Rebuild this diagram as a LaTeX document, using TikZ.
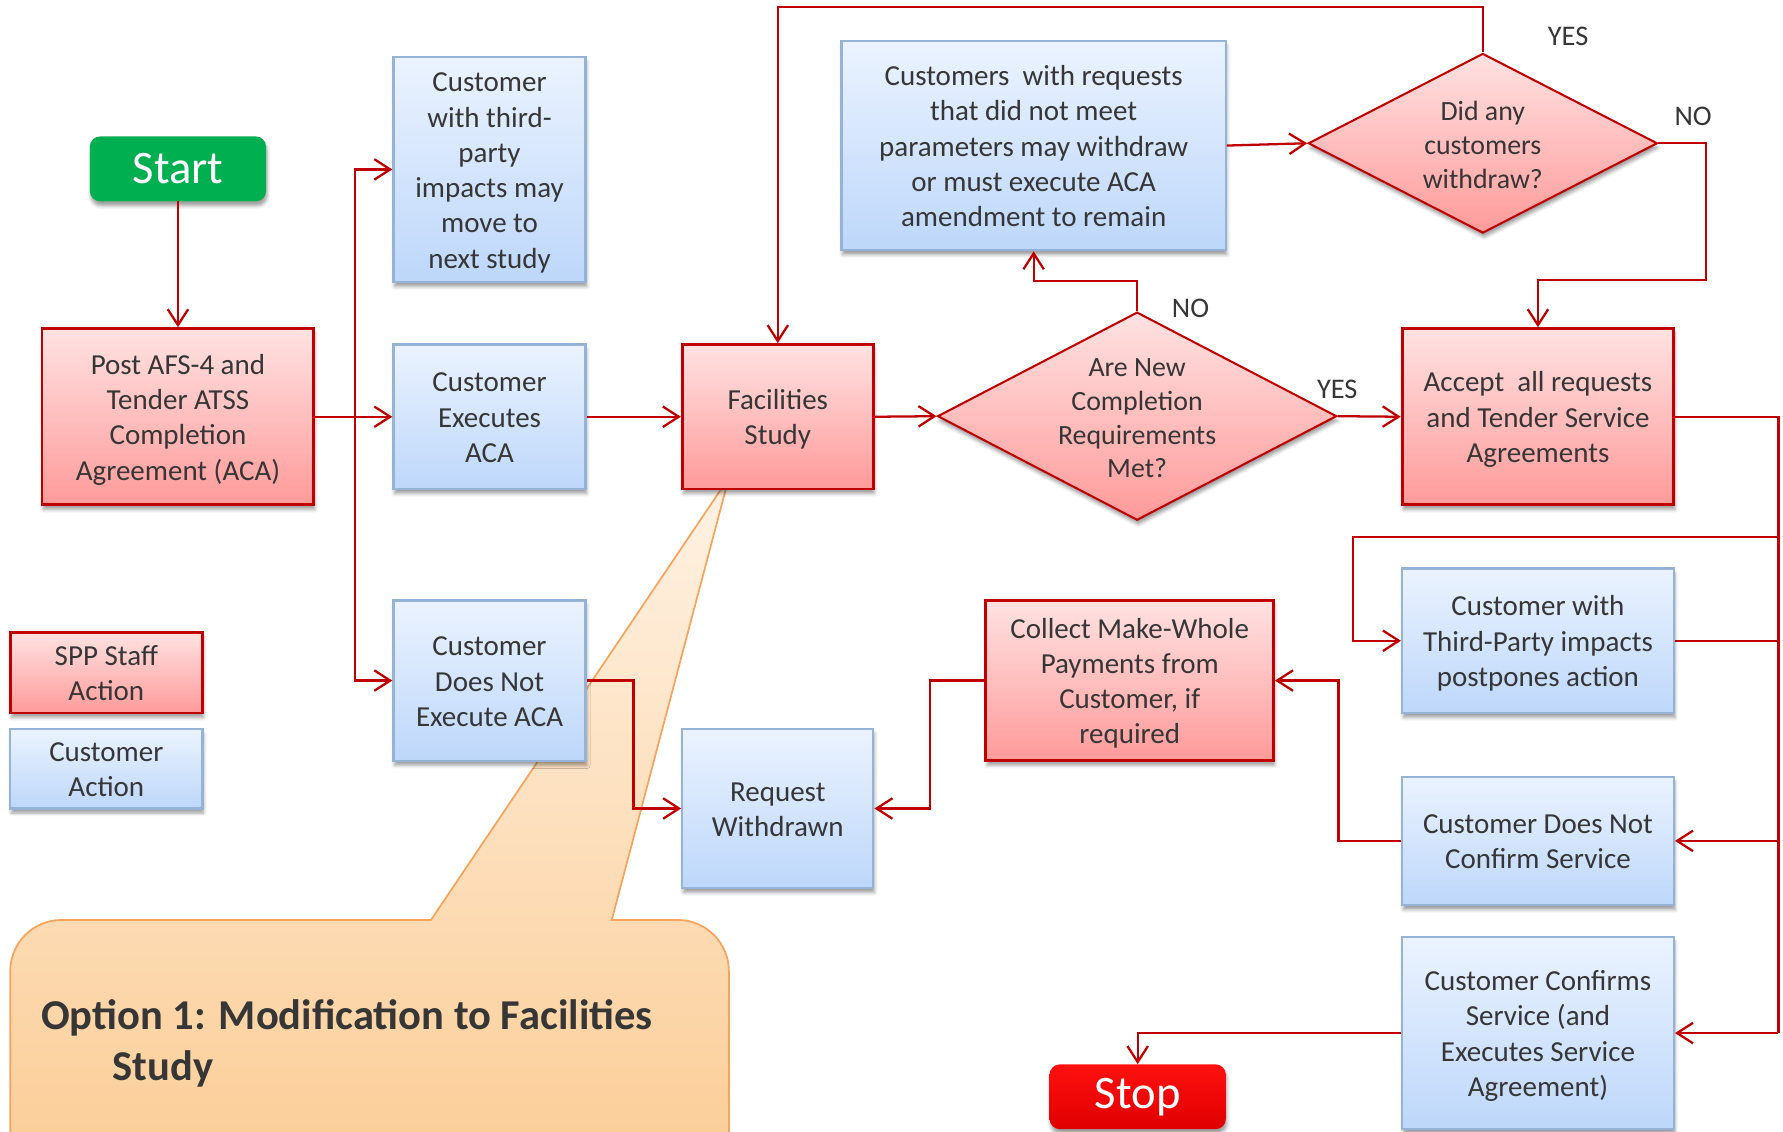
\documentclass[tikz,border=0pt]{standalone}
\usepackage{fontspec}
\setmainfont{Carlito}
\usetikzlibrary{arrows.meta,shapes.geometric,shadows.blur}
\definecolor{cred}{HTML}{C00000}
\definecolor{rtop}{HTML}{FFE2E2}
\definecolor{rbot}{HTML}{FF9A9A}
\definecolor{btop}{HTML}{EBF3FF}
\definecolor{bbot}{HTML}{BDD7FA}
\definecolor{bbord}{HTML}{95B3D7}
\definecolor{txt}{HTML}{363636}
\definecolor{sgreen}{HTML}{00B050}
\definecolor{stopt}{HTML}{FF1010}
\definecolor{stopb}{HTML}{E00000}
\definecolor{otop}{HTML}{FFF2E4}
\definecolor{obot}{HTML}{FBCB92}
\definecolor{obord}{HTML}{F7A35C}
\newcommand\bxt[1]{\raisebox{-3pt}[\height][\depth]{\begin{tabular}{@{}c@{}}#1\end{tabular}}}
\tikzset{
  sh/.style={blur shadow={shadow xshift=1pt,shadow yshift=-4pt,shadow blur radius=3pt,shadow opacity=38}},
  boxtext/.style={font=\fontsize{25.5}{31}\selectfont, text=txt, align=center, inner sep=0pt},
  redbox/.style={boxtext, draw=cred, line width=2.5pt, top color=rtop, bottom color=rbot, sh},
  bluebox/.style={boxtext, draw=bbord, line width=2pt, top color=btop, bottom color=bbot, sh},
  dia/.style={diamond, draw=cred, line width=1.8pt, top color=rtop, bottom color=rbot, inner sep=0pt, sh},
  diatext/.style={font=\fontsize{24.5}{29.7}\selectfont, text=txt, align=center, inner sep=0pt},
  lbl/.style={font=\fontsize{25}{30}\selectfont, text=txt, inner sep=0pt},
  conn/.style={draw=cred, line width=2pt, -{Straight Barb[length=14pt,width=18pt,line width=2pt]}},
  wire/.style={draw=cred, line width=2pt},
  term/.style={rounded corners=9pt, text=white, font=\fontsize{41}{45}\selectfont, inner sep=0pt, minimum width=155pt, minimum height=57pt, sh},
}
\begin{document}
\begin{tikzpicture}[x=1pt,y=-1pt]
\useasboundingbox (0,0) rectangle (1568,995);
% callout
\path[draw=obord, line width=1.5pt, top color=otop, bottom color=obot]
  (379,809) -- (641,420) -- (538,809) -- (596,809) .. controls (620.8,809) and (641,829.2) .. (641,854)
  -- (641,1060) -- (9,1060) -- (9,854) .. controls (9,829.2) and (29.2,809) .. (54,809) -- cycle;
\node[font=\bfseries\fontsize{37.4}{45}\selectfont, text=txt, align=left, anchor=west, inner sep=0pt] (opt) at (36,917.5) {Option 1: Modification to Facilities\\\hspace*{63pt}Study};

% nodes
\node[term, fill=sgreen] (start) at (156.5,148.5) {\raisebox{-1.5pt}{Start}};
\node[redbox, minimum width=239pt, minimum height=155pt] (post) at (156.5,366.5) {\bxt{Post AFS-4 and\\Tender ATSS\\Completion\\Agreement (ACA)}};
\node[bluebox, minimum width=169pt, minimum height=198pt] (third) at (430.5,149) {\bxt{Customer\\with third-\\party\\impacts may\\move to\\next study}};
\node[bluebox, minimum width=169pt, minimum height=127pt] (exec) at (430.5,366.5) {\bxt{Customer\\Executes\\ACA}};
\node[bluebox, minimum width=169pt, minimum height=141pt] (notexec) at (430.5,598.5) {\bxt{Customer\\Does Not\\Execute ACA}};
\node[redbox, minimum width=168pt, minimum height=127pt] (fac) at (684,366.5) {\bxt{Facilities\\Study}};
\node[dia, minimum width=351pt, minimum height=183pt] (d1) at (1000,366) {};
\node[diatext] (d1t) at (1000,368) {Are New\\Completion\\Requirements\\Met?};
\node[redbox, minimum width=239pt, minimum height=155pt] (accept) at (1352.5,366.5) {\bxt{Accept~ all requests\\and Tender Service\\Agreements}};
\node[bluebox, minimum width=338pt, minimum height=184pt] (cwr) at (909,128) {\bxt{Customers~ with requests\\that did not meet\\parameters may withdraw\\or must execute ACA\\amendment to remain}};
\node[dia, minimum width=307pt, minimum height=158pt] (d2) at (1304,126) {};
\node[diatext] (d2t) at (1304,127.5) {Did any\\customers\\withdraw?};
\node[bluebox, minimum width=239pt, minimum height=127pt] (tpp) at (1352.5,563.5) {\bxt{Customer with\\Third-Party impacts\\postpones action}};
\node[bluebox, minimum width=239pt, minimum height=113pt] (dnc) at (1352.5,739.5) {\bxt{Customer Does Not\\Confirm Service}};
\node[bluebox, minimum width=239pt, minimum height=169pt] (conf) at (1352.5,908.5) {\bxt{Customer Confirms\\Service (and\\Executes Service\\Agreement)}};
\node[redbox, minimum width=253pt, minimum height=141pt] (collect) at (993.5,598.5) {\bxt{Collect Make-Whole\\Payments from\\Customer, if\\required}};
\node[bluebox, minimum width=168pt, minimum height=140pt] (reqw) at (684,711) {\bxt{Request\\Withdrawn}};
\node[term, top color=stopt, bottom color=stopb] (stop) at (1000.5,964.5) {\raisebox{-1.5pt}{Stop}};
\node[redbox, minimum width=169pt, minimum height=71pt] (leg1) at (93.5,591.5) {\bxt{SPP Staff\\Action}};
\node[bluebox, minimum width=169pt, minimum height=70pt] (leg2) at (93.5,676) {\bxt{Customer\\Action}};

% labels
\node[lbl] (yes1) at (1176,342) {YES};
\node[lbl] (no1) at (1047,271) {NO};
\node[lbl] (yes2) at (1379,32) {YES};
\node[lbl] (no2) at (1489,102) {NO};

% coordinates
\coordinate (jx) at (312,366.5);
\coordinate (n1) at (1000,247);
\coordinate (y2) at (1304,6);
\coordinate (n2) at (1500,246);
\coordinate (rj) at (1564,366.5);
\coordinate (rt) at (1564,472);
\coordinate (lt) at (1190,472);
\coordinate (rb1) at (1564,739.5);
\coordinate (rb2) at (1564,908.5);
\coordinate (cx) at (1177,739.5);
\coordinate (wx) at (818,598.5);
\coordinate (ex) at (557,598.5);

% connectors
\draw[conn] (start) -- (post);
\draw[conn] (post.east) -- (exec.west);
\draw[conn] (jx) |- (third.west);
\draw[conn] (jx) |- (notexec.west);
\draw[conn] (exec.east) -- (fac.west);
\draw[conn] (fac.east) -- (d1.west);
\draw[conn] (d1.east) -- (accept.west);
\draw[conn] (d1.north) -- (n1) -| (cwr.south);
\draw[conn] (cwr.east) -- (d2.west);
\draw[conn] (d2.north) -- (y2) -| (fac.north);
\draw[conn] (d2.east) -| (n2) -| (accept.north);
\draw[wire] (accept.east) -- (rj) -- (rb2);
\draw[conn] (rt) -- (lt) |- (tpp.west);
\draw[wire] (tpp.east) -- (tpp.east -| rj);
\draw[conn] (rb1) -- (dnc.east);
\draw[conn] (rb2) -- (conf.east);
\draw[conn] (dnc.west) -- (cx) |- (collect.east);
\draw[conn] (collect.west) -- (wx) |- (reqw.east);
\draw[conn] (notexec.east) -- (ex) |- (reqw.west);
\draw[conn] (conf.west) -| (stop.north);
\end{tikzpicture}
\end{document}
